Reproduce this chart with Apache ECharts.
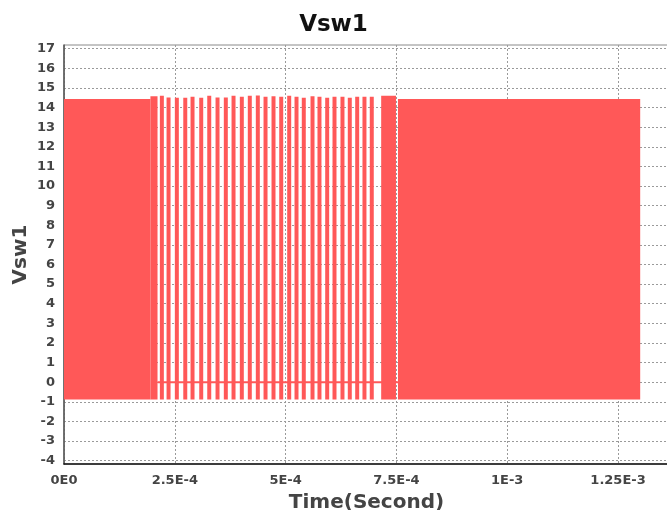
<!DOCTYPE html>
<html>
<head>
<meta charset="utf-8">
<script src="https://cdn.jsdelivr.net/npm/echarts@6/dist/echarts.min.js"></script>
<style>
  html, body { margin: 0; padding: 0; background: #ffffff; }
  #chart { width: 667px; height: 510px; }
</style>
</head>
<body>
<div id="chart"></div>
<script>
// Vsw1 switch-node voltage. The converter switches far faster than one pixel,
// so each burst of switching shows up as a filled band between its low and high level.
const burstStart = [
  0, 1.95e-4,
  2.163e-4, 2.314e-4, 2.501e-4, 2.691e-4, 2.855e-4, 3.051e-4, 3.232e-4,
  3.419e-4, 3.606e-4, 3.780e-4, 3.967e-4, 4.147e-4, 4.328e-4, 4.502e-4,
  4.682e-4, 4.856e-4, 5.036e-4, 5.201e-4, 5.365e-4, 5.562e-4, 5.719e-4,
  5.893e-4, 6.058e-4, 6.238e-4, 6.403e-4, 6.570e-4, 6.734e-4, 6.899e-4,
  7.156e-4, 7.535e-4
];
const burstEnd = [
  1.95e-4, 2.11e-4,
  2.253e-4, 2.404e-4, 2.591e-4, 2.781e-4, 2.945e-4, 3.141e-4, 3.322e-4,
  3.509e-4, 3.696e-4, 3.870e-4, 4.057e-4, 4.237e-4, 4.418e-4, 4.592e-4,
  4.772e-4, 4.946e-4, 5.126e-4, 5.291e-4, 5.455e-4, 5.652e-4, 5.809e-4,
  5.983e-4, 6.148e-4, 6.328e-4, 6.493e-4, 6.660e-4, 6.824e-4, 6.989e-4,
  7.49e-4, 1.3e-3
];
const burstHigh = [
  14.44, 14.58,
  14.6, 14.52, 14.5, 14.5, 14.55, 14.5, 14.6,
  14.52, 14.52, 14.6, 14.55, 14.6, 14.62, 14.55,
  14.58, 14.55, 14.6, 14.55, 14.5, 14.58, 14.55,
  14.5, 14.55, 14.55, 14.5, 14.55, 14.55, 14.55,
  14.6, 14.44
];
const burstLow = [
  -0.88, -0.88,
  -0.88, -0.88, -0.88, -0.88, -0.88, -0.88, -0.88,
  -0.88, -0.88, -0.88, -0.88, -0.88, -0.88, -0.88,
  -0.88, -0.88, -0.88, -0.88, -0.88, -0.88, -0.88,
  -0.88, -0.88, -0.88, -0.88, -0.88, -0.88, -0.88,
  -0.88, -0.88
];

// Idle level between the sparse bursts
const idleTime = [2.11e-4, 7.535e-4];
const idleLevel = [0, 0];

// Axis ticks
const yTickValues = [-4, -3, -2, -1, 0, 1, 2, 3, 4, 5, 6, 7, 8, 9, 10, 11, 12, 13, 14, 15, 16, 17];
const xTickInterval = 2.5e-4;

const WAVE_COLOR = '#ff5858';
const TEXT_COLOR = '#444444';
const FONT = 'DejaVu Sans';

const bursts = burstStart.map((s, i) => [s, burstEnd[i], burstLow[i], burstHigh[i]]);
const idleLine = idleTime.map((t, i) => [t, idleLevel[i]]);

// 2.5E-4 style engineering labels
function sciLabel(v) {
  if (v === 0) return '0E0';
  const exp = Math.floor(Math.log10(Math.abs(v)) + 1e-9);
  const mant = parseFloat((v / Math.pow(10, exp)).toFixed(4));
  return mant + 'E' + exp;
}

const chart = echarts.init(document.getElementById('chart'), null, { renderer: 'canvas' });

chart.setOption({
  animation: false,
  backgroundColor: '#ffffff',
  title: {
    text: 'Vsw1',
    left: 'center',
    top: 9,
    textStyle: { fontFamily: FONT, fontWeight: 'bold', fontSize: 23, color: '#111111' }
  },
  grid: {
    left: 64, right: -2, top: 45, bottom: 46,
    containLabel: false,
    outerBoundsMode: 'none',
    show: true, borderColor: '#8a8a8a', borderWidth: 1
  },
  xAxis: {
    type: 'value',
    min: 0,
    max: 1.365e-3,
    interval: xTickInterval,
    name: 'Time(Second)',
    nameLocation: 'middle',
    nameGap: 29,
    nameMoveOverlap: false,
    nameTextStyle: { fontFamily: FONT, fontWeight: 'bold', fontSize: 20, color: TEXT_COLOR },
    axisLine: { show: true, onZero: false, lineStyle: { color: '#111111', width: 1.5 } },
    axisTick: { show: false },
    axisLabel: {
      showMaxLabel: false,
      margin: 10,
      fontFamily: FONT, fontWeight: 'bold', fontSize: 13, color: TEXT_COLOR,
      formatter: sciLabel
    },
    splitLine: { show: true, lineStyle: { color: '#9a9a9a', type: [2, 2], width: 1 } }
  },
  yAxis: {
    type: 'value',
    min: -4.17,
    max: 17.19,
    name: 'Vsw1',
    nameLocation: 'middle',
    nameGap: 33,
    nameMoveOverlap: false,
    nameTextStyle: { fontFamily: FONT, fontWeight: 'bold', fontSize: 20, color: TEXT_COLOR },
    axisLine: { show: true, onZero: false, lineStyle: { color: '#555555', width: 1.5 } },
    axisTick: { show: false, customValues: yTickValues },
    axisLabel: {
      customValues: yTickValues,
      margin: 9,
      fontFamily: FONT, fontWeight: 'bold', fontSize: 13, color: TEXT_COLOR
    },
    splitLine: { show: true, lineStyle: { color: '#9a9a9a', type: [2, 2], width: 1 } }
  },
  series: [
    {
      type: 'line',
      data: idleLine,
      showSymbol: false,
      lineStyle: { color: WAVE_COLOR, width: 2 },
      z: 2
    },
    {
      type: 'custom',
      data: bursts,
      encode: { x: [0, 1], y: [2, 3] },
      z: 3,
      renderItem: function (params, api) {
        const topLeft = api.coord([api.value(0), api.value(3)]);
        const bottomRight = api.coord([api.value(1), api.value(2)]);
        const cs = params.coordSys;
        const shape = echarts.graphic.clipRectByRect(
          { x: topLeft[0], y: topLeft[1], width: bottomRight[0] - topLeft[0], height: bottomRight[1] - topLeft[1] },
          { x: cs.x, y: cs.y, width: cs.width, height: cs.height }
        );
        return shape && { type: 'rect', shape: shape, style: { fill: WAVE_COLOR } };
      }
    }
  ]
});
</script>
</body>
</html>
